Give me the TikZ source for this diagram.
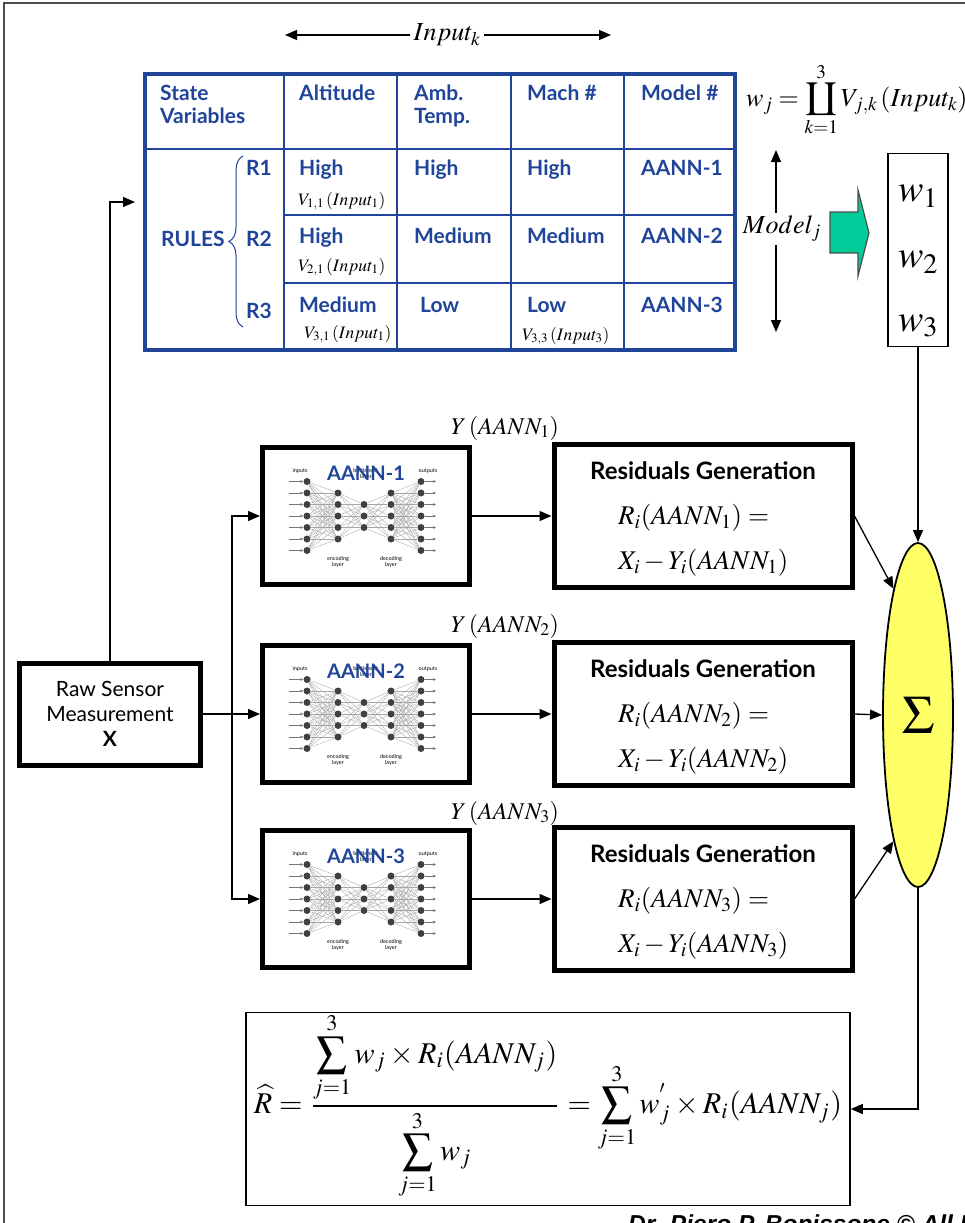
\documentclass[tikz,border=0pt]{standalone}
\usepackage{mathptmx}
\usepackage[no-math]{fontspec}
\usepackage{graphicx}
\newfontfamily\gefont{Lato}
\newfontfamily\sigfont{Liberation Sans}
\usetikzlibrary{arrows.meta,shapes.geometric,decorations.pathreplacing}

\definecolor{gebl}{RGB}{31,68,154}
\definecolor{sumyel}{RGB}{255,255,102}
\definecolor{wgreen}{RGB}{0,204,153}

% upside-down product sign (mathptmx has no \coprod)
\newcommand{\upprod}{\mathop{\rotatebox[origin=c]{180}{$\displaystyle\prod$}}\limits}

% small autoencoder drawn inside a box: #1 prefix, #2 box node, #3 title
\newcommand{\aannnet}[3]{%
  \begin{scope}[shift={(#2.center)}]
    \foreach \k in {1,...,7} {
      \node[neuron] (#1i\k) at (-59,{(\k-4)*11.5}) {};
      \node[neuron] (#1o\k) at (55,{(\k-4)*11.5}) {};
      \coordinate (#1x\k) at (-77,{(\k-4)*11.5});
      \coordinate (#1y\k) at (70,{(\k-4)*11.5});
    }
    \foreach \k in {1,...,5} {
      \node[neuron] (#1e\k) at (-28,{(\k-3)*11.5}) {};
      \node[neuron] (#1d\k) at (25,{(\k-3)*11.5}) {};
    }
    \foreach \k in {1,2,3}
      \node[neuron] (#1b\k) at (-2,{(\k-2)*11.5}) {};
    \foreach \a in {1,...,7}
      \foreach \b in {1,...,5} {
        \draw[synapse] (#1i\a) -- (#1e\b);
        \draw[synapse] (#1d\b) -- (#1o\a);
      }
    \foreach \a in {1,...,5}
      \foreach \b in {1,2,3} {
        \draw[synapse] (#1e\a) -- (#1b\b);
        \draw[synapse] (#1b\b) -- (#1d\a);
      }
    \foreach \k in {1,...,7} {
      \draw[synarrow] (#1x\k) -- (#1i\k);
      \draw[synarrow] (#1o\k) -- (#1y\k);
    }
    \node[tinylabel] (#1li) at (-66,-45) {inputs};
    \node[tinylabel] (#1lo) at (62,-45) {outputs};
    \node[tinylabel] (#1lb) at (0,-42) {bottleneck\\layer};
    \node[tinylabel] (#1le) at (-28,46) {encoding\\layer};
    \node[tinylabel] (#1ld) at (25,46) {decoding\\layer};
    \node[aannlabel] (#1t) at (0,-43) {#3};
  \end{scope}}

\begin{document}
\begin{tikzpicture}[x=1pt, y=-1pt,
    arrow/.style={-{Triangle[length=12pt,width=10pt]}, line width=1.3pt},
    thickbox/.style={draw, line width=5pt, inner sep=0pt},
    thinbox/.style={draw, line width=1.5pt, inner sep=0pt},
    gecell/.style={anchor=base west, inner sep=0pt, text=gebl, align=left,
      font=\gefont\bfseries\fontsize{21}{23}\selectfont},
    vcell/.style={anchor=base west, inner sep=0pt, font=\fontsize{17.5}{20}\selectfont},
    tblline/.style={draw=gebl, line width=2.5pt},
    neuron/.style={circle, fill=black!75, inner sep=0pt, minimum size=7pt},
    synapse/.style={draw=black!35, line width=0.35pt},
    synarrow/.style={draw=black!55, line width=0.5pt, -{Triangle[length=3pt,width=2.5pt]}},
    tinylabel/.style={font=\gefont\fontsize{5.5}{6}\selectfont, align=center, inner sep=0pt},
    aannlabel/.style={font=\gefont\bfseries\fontsize{20}{22}\selectfont, text=gebl, inner sep=0pt},
    resttl/.style={anchor=base, font=\gefont\bfseries\fontsize{24}{26}\selectfont, inner sep=0pt},
    resmath/.style={anchor=base west, font=\fontsize{27}{30}\selectfont, inner sep=0pt},
    bigmath/.style={font=\fontsize{26}{30}\selectfont},
    wmath/.style={font=\fontsize{38}{40}\selectfont, inner sep=0pt}
  ]
  \useasboundingbox (0,0) rectangle (965,1223);
  \clip (0,0) rectangle (965,1223);
  \draw[line width=1.5pt, black!70] (4,1300) -- (4,3) -- (1000,3);

  % Input_k arrow over the table
  \node[bigmath] (inpk) at (447,35) {$Input_k$};
  \coordinate (inl) at (285,35);
  \coordinate (inr) at (611,35);
  \draw[arrow] (inpk.west) -- (inl);
  \draw[arrow] (inpk.east) -- (inr);

  % Rule table
  \node[draw=gebl, line width=4pt, minimum width=590pt, minimum height=276pt, inner sep=0pt] (tbl) at (440,212) {};
  \draw[tblline] (145,149) -- (735,149);
  \foreach \yy in {215,283}
    \draw[tblline] (284,\yy) -- (735,\yy);
  \foreach \xx in {284,397,511,624}
    \draw[tblline] (\xx,74) -- (\xx,350);

  \node[gecell] (hsv) at (160,123) {State\\Variables};
  \node[gecell] (halt) at (299,100) {Altitude};
  \node[gecell] (hamb) at (414,123) {Amb.\\Temp.};
  \node[gecell] (hmach) at (527,100) {Mach \#};
  \node[gecell] (hmod) at (641,100) {Model \#};

  \node[gecell] (rules) at (161,246) {RULES};
  \draw[gebl, line width=1pt, decorate, decoration={brace, amplitude=14pt}] (243,327) -- (243,156);
  \node[gecell] (r1) at (246,175) {R1};
  \node[gecell] (r2) at (246,246) {R2};
  \node[gecell] (r3) at (246,318) {R3};

  \node[gecell] (c11) at (299,175) {High};
  \node[gecell] (c12) at (414,175) {High};
  \node[gecell] (c13) at (527,175) {High};
  \node[gecell] (c14) at (641,175) {AANN-1};
  \node[vcell] (v11) at (298,205) {$V_{1,1}\left(Input_1\right)$};

  \node[gecell] (c21) at (299,243) {High};
  \node[gecell] (c22) at (414,243) {Medium};
  \node[gecell] (c23) at (527,243) {Medium};
  \node[gecell] (c24) at (641,243) {AANN-2};
  \node[vcell] (v21) at (298,271) {$V_{2,1}\left(Input_1\right)$};

  \node[gecell] (c31) at (299,312) {Medium};
  \node[gecell] (c32) at (420,312) {Low};
  \node[gecell] (c33) at (527,312) {Low};
  \node[gecell] (c34) at (641,312) {AANN-3};
  \node[vcell] (v31) at (304,338) {$V_{3,1}\left(Input_1\right)$};
  \node[vcell] (v33) at (522,340) {$V_{3,3}\left(Input_3\right)$};

  % weights
  \node[bigmath, anchor=west, inner sep=0pt] (wjf) at (746,100)
    {$\displaystyle w_j=\upprod_{k=1}^{3}V_{j,k}\left(Input_k\right)$};
  \node[bigmath] (model) at (782,229) {$Model_j$};
  \coordinate (mtop) at (776,150);
  \coordinate (mbot) at (776,332);
  \draw[arrow] (mtop |- model.north) -- (mtop);
  \draw[arrow] (mbot |- model.south) -- (mbot);
  \filldraw[fill=wgreen, draw=black!70, line width=1.2pt]
    (830,212) -- (858,212) -- (858,190) -- (869,233) -- (858,276) -- (858,253) -- (830,253) -- cycle;
  \node[thinbox, minimum width=60pt, minimum height=193pt] (wbox) at (918,250) {};
  \node[wmath] (w1) at (918,196) {$w_1$};
  \node[wmath] (w2) at (918,262) {$w_2$};
  \node[wmath] (w3) at (918,326) {$w_3$};

  % sensor input
  \node[thickbox, minimum width=181pt, minimum height=102pt, align=center,
    font=\gefont\fontsize{21}{25}\selectfont] (raw) at (110,714)
    {Raw Sensor\\Measurement\\\textbf{X}};
  \coordinate (tblin) at (135,202);
  \draw[arrow] (raw.north) |- (tblin);

  % the three networks and their residuals
  \foreach \i/\yc/\ly in {1/516/428, 2/714/626, 3/899/813} {
    \node[thickbox, minimum width=207pt, minimum height=137pt] (net\i) at (366,\yc) {};
    \aannnet{n\i}{net\i}{AANN-\i}
    \node[thickbox, minimum width=298pt, minimum height=143pt] (res\i) at (703,\yc) {};
    \node[resttl] (rt\i) at (703,\yc-37) {Residuals Generation};
    \node[resmath] (rr\i) at (618,\yc+8) {$R_i(AANN_{\i})=$};
    \node[resmath] (rx\i) at (618,\yc+53) {$X_i-Y_i(AANN_{\i})$};
    \node[font=\fontsize{24}{28}\selectfont] (yl\i) at (505,\ly) {$Y\left(AANN_{\i}\right)$};
    \draw[arrow] (net\i.east) -- (net\i.east -| res\i.west);
  }

  \coordinate (bus) at (232,714);
  \draw[arrow] (raw.east) -- (net2.west);
  \draw[arrow] (bus) |- (net1.west);
  \draw[arrow] (bus) |- (net3.west);

  % weighted sum
  \node[ellipse, draw, line width=1.8pt, fill=sumyel, minimum width=70pt, minimum height=344pt,
    inner sep=0pt, font=\fontsize{54}{60}\selectfont] (sum) at (918,715) {$\Sigma$};
  \draw[arrow] (wbox.south) -- (sum.north);
  \draw[arrow] (res1.east) -- (sum.101);
  \draw[arrow] (res2.east) -- (sum.west);
  \draw[arrow] (res3.east) -- (sum.259);

  \node[thinbox, minimum width=604pt, minimum height=193pt] (rhat) at (548,1109) {};
  \node (rhatf) at (548,1106) {\resizebox{588pt}{!}{$\displaystyle
    \widehat{R}=\frac{\displaystyle\sum_{j=1}^{3}w_j\times R_i(AANN_j)}{\displaystyle\sum_{j=1}^{3}w_j}
    =\sum_{j=1}^{3}w_j^{'}\times R_i(AANN_j)$}};
  \draw[arrow] (sum.south) |- (rhat.east);

  \node[anchor=base west, inner sep=0pt, font=\sigfont\bfseries\itshape\fontsize{24.5}{28}\selectfont]
    (sig) at (628,1232) {Dr. Piero P. Bonissone © All Rights Reserved};
\end{tikzpicture}
\end{document}
